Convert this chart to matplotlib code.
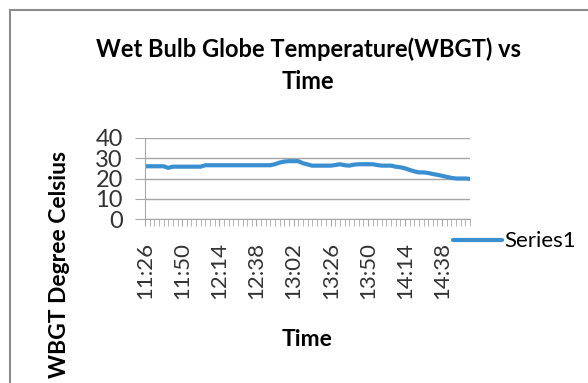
import matplotlib.pyplot as plt
from matplotlib.patches import Rectangle

# WBGT readings, one every 3 minutes from 11:26
wbgt = [26, 26, 26, 26, 26, 25.2, 25.8, 25.8, 25.8, 25.8,
        25.8, 25.8, 25.8, 26.5, 26.5, 26.5, 26.5, 26.5, 26.5, 26.5,
        26.5, 26.5, 26.5, 26.5, 26.5, 26.5, 26.5, 26.5, 27, 27.8,
        28.3, 28.5, 28.5, 28.5, 27.5, 26.9, 26.3, 26.3, 26.3, 26.3,
        26.3, 26.6, 27, 26.5, 26.3, 26.8, 27, 27, 27, 27,
        26.6, 26.3, 26.3, 26.3, 25.8, 25.5, 25, 24.2, 23.5, 23,
        23, 22.7, 22.2, 21.8, 21.3, 20.8, 20.3, 20, 20, 20,
        19.8]
tick_labels = ["11:26", "11:50", "12:14", "12:38", "13:02",
               "13:26", "13:50", "14:14", "14:38"]
label_every = 8

plt.rcParams['font.family'] = ['Lato', 'DejaVu Sans']

fig = plt.figure(figsize=(5.88, 3.83), dpi=100)
fig.patches.append(Rectangle((10 / 588, -0.1), 1.2, 1 - 10 / 383 + 0.1,
                             transform=fig.transFigure, fill=False,
                             edgecolor='#8c8c8c', lw=1.5))

ax = fig.add_axes([145 / 588, 1 - 219.3 / 383, 325 / 588, 81.6 / 383])
x = list(range(len(wbgt)))
ax.plot(x, wbgt, color='#3a8fd0', lw=3, solid_capstyle='round',
        label='Series1')

ax.set_xlim(0, len(wbgt) - 1)
ax.set_ylim(0, 40)
ax.set_yticks([0, 10, 20, 30, 40])
ax.yaxis.grid(True, color='#a6a6a6', lw=1)
ax.set_axisbelow(True)
ax.set_xticks(x, minor=True)
ax.set_xticks([i * label_every for i in range(len(tick_labels))])
ax.set_xticklabels(tick_labels, rotation=90)
ax.tick_params(axis='x', which='both', length=5, color='#a6a6a6',
               labelsize=16, pad=11, labelcolor='#333333')
ax.tick_params(axis='y', length=7, color='#a6a6a6', labelsize=17, pad=9,
               labelcolor='#333333')
for s in ['top', 'right']:
    ax.spines[s].set_visible(False)
for s in ['left', 'bottom']:
    ax.spines[s].set_color('#a6a6a6')

ax.set_ylabel('WBGT Degree Celsius', fontsize=16.5, fontweight='bold')
ax.yaxis.set_label_coords(-0.23, -0.55)
ax.set_xlabel('Time', fontsize=16.5, fontweight='bold')
ax.xaxis.set_label_coords(0.5, -1.35)

fig.text(308 / 588, 1 - 65 / 383,
         'Wet Bulb Globe Temperature(WBGT) vs\nTime',
         ha='center', va='center', fontsize=17, fontweight='bold',
         linespacing=1.45)

ax.legend(loc='center left', bbox_to_anchor=(0.92, -0.27), frameon=False,
          fontsize=16, handlelength=2.2, handletextpad=0.1,
          borderaxespad=0)

fig.savefig('out.png', dpi=100)
